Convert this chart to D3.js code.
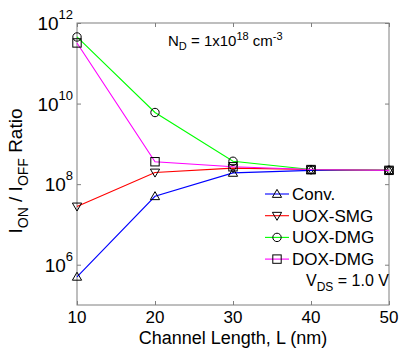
<!DOCTYPE html>
<html>
<head>
<meta charset="utf-8">
<script src="https://cdn.jsdelivr.net/npm/d3@7"></script>
<style>
  body { margin: 0; background: #fff; }
  text { font-family: "Liberation Sans", Arial, sans-serif; fill: #000; }
</style>
</head>
<body>
<svg id="chart" width="400" height="348"></svg>
<script>
// data
const lengths = [10, 20, 30, 40, 50];
const conv    = [5e5, 5e7, 1.9e8, 2.2e8, 2.2e8];
const uoxSmg  = [2.8e7, 1.95e8, 2.5e8, 2.3e8, 2.2e8];
const uoxDmg  = [4.5e11, 6e9, 3.7e8, 2.3e8, 2.2e8];
const doxDmg  = [3.2e11, 3.6e8, 2.7e8, 2.3e8, 2.2e8];
const yTickExps = [6, 8, 10, 12];

const series = [
  { name: 'Conv.',   values: conv,   color: '#0000ff', marker: 'up' },
  { name: 'UOX-SMG', values: uoxSmg, color: '#ff0000', marker: 'down' },
  { name: 'UOX-DMG', values: uoxDmg, color: '#00ff00', marker: 'circle' },
  { name: 'DOX-DMG', values: doxDmg, color: '#ff00ff', marker: 'square' }
];

const width = 400, height = 348;
const margin = { top: 23, right: 11, bottom: 43, left: 77 };
const w = width - margin.left - margin.right;
const h = height - margin.top - margin.bottom;

const svg = d3.select('#chart');
const chart = svg.append('g').attr('transform', `translate(${margin.left},${margin.top})`);

const x = d3.scaleLinear().domain([10, 50]).range([0, w]);
const y = d3.scaleLog().domain([1e5, 1e12]).range([h, 0]);

const axisColor = '#7f7f7f';

// tick marks (inward) on all four sides
function styleAxis(g) {
  g.select('.domain').remove();
  g.selectAll('line').attr('stroke', axisColor);
  g.selectAll('text').remove();
}
const yTicks = yTickExps.map(e => Math.pow(10, e));
chart.append('g').call(d3.axisBottom(x).tickValues(lengths).tickSizeInner(-4).tickSizeOuter(0))
  .attr('transform', `translate(0,${h})`).call(styleAxis);
chart.append('g').call(d3.axisTop(x).tickValues(lengths).tickSizeInner(-4).tickSizeOuter(0))
  .call(styleAxis);
chart.append('g').call(d3.axisLeft(y).tickValues(yTicks).tickSizeInner(-4).tickSizeOuter(0))
  .call(styleAxis);
chart.append('g').call(d3.axisRight(y).tickValues(yTicks).tickSizeInner(-4).tickSizeOuter(0))
  .attr('transform', `translate(${w},0)`).call(styleAxis);

// box
chart.append('rect')
  .attr('width', w).attr('height', h)
  .attr('fill', 'none').attr('stroke', axisColor).attr('stroke-width', 1);

// x tick labels
chart.append('g').selectAll('text')
  .data(lengths).enter().append('text')
  .attr('x', d => x(d)).attr('y', h + 18)
  .attr('text-anchor', 'middle').attr('font-size', 17)
  .text(d => d);

// y tick labels: 10^n
const yl = chart.append('g').selectAll('text')
  .data(yTickExps).enter().append('text')
  .attr('x', -4).attr('y', d => y(Math.pow(10, d)) + 7)
  .attr('text-anchor', 'end').attr('font-size', 19);
yl.append('tspan').text('10');
yl.append('tspan').attr('font-size', 13).attr('dy', -11).text(d => d);

// axis titles
svg.append('text')
  .attr('x', margin.left + w / 2).attr('y', 344)
  .attr('text-anchor', 'middle').attr('font-size', 18)
  .text('Channel Length, L (nm)');

const yt = svg.append('text')
  .attr('transform', `translate(22,171) rotate(-90)`)
  .attr('text-anchor', 'middle').attr('font-size', 19);
yt.append('tspan').text('I');
yt.append('tspan').attr('font-size', 14).attr('dy', 6).text('ON');
yt.append('tspan').attr('dy', -6).text(' / I');
yt.append('tspan').attr('font-size', 14).attr('dy', 6).text('OFF');
yt.append('tspan').attr('dy', -6).text(' Ratio');

// markers
const ms = 4.2;
function drawMarker(g, type, cx, cy) {
  const s = ms;
  if (type === 'circle') {
    g.append('circle').attr('cx', cx).attr('cy', cy).attr('r', s)
      .attr('fill', 'none').attr('stroke', '#000');
  } else if (type === 'square') {
    g.append('rect').attr('x', cx - s).attr('y', cy - s).attr('width', 2 * s).attr('height', 2 * s)
      .attr('fill', 'none').attr('stroke', '#000');
  } else {
    const k = type === 'up' ? -1 : 1;
    const pts = [[cx, cy + k * s * 1.1], [cx - s * 1.1, cy - k * s * 0.8], [cx + s * 1.1, cy - k * s * 0.8]];
    g.append('polygon').attr('points', pts.map(p => p.join(',')).join(' '))
      .attr('fill', 'none').attr('stroke', '#000');
  }
}

const line = d3.line().x(d => x(d[0])).y(d => y(d[1]));
series.forEach(s => {
  const pts = lengths.map((L, i) => [L, s.values[i]]);
  const g = chart.append('g');
  g.append('path').datum(pts).attr('d', line)
    .attr('fill', 'none').attr('stroke', s.color).attr('stroke-width', 1.1);
  pts.forEach(p => drawMarker(g, s.marker, x(p[0]), y(p[1])));
});

// legend
const legend = svg.append('g');
series.forEach((s, i) => {
  const ly = 194 + i * 21.7;
  legend.append('line').attr('x1', 265).attr('x2', 289).attr('y1', ly).attr('y2', ly)
    .attr('stroke', s.color).attr('stroke-width', 1.1);
  drawMarker(legend, s.marker, 277, ly);
  legend.append('text').attr('x', 292).attr('y', ly + 6).attr('font-size', 17).text(s.name);
});

// annotations
const vds = svg.append('text').attr('x', 306).attr('y', 286).attr('font-size', 16);
vds.append('tspan').text('V');
vds.append('tspan').attr('font-size', 12).attr('dy', 5).text('DS');
vds.append('tspan').attr('dy', -5).text(' = 1.0 V');

const nd = svg.append('text').attr('x', 168).attr('y', 46).attr('font-size', 15);
nd.append('tspan').text('N');
nd.append('tspan').attr('font-size', 11).attr('dy', 4).text('D');
nd.append('tspan').attr('dy', -4).text(' = 1x10');
nd.append('tspan').attr('font-size', 11).attr('dy', -6).text('18');
nd.append('tspan').attr('dy', 6).text(' cm');
nd.append('tspan').attr('font-size', 11).attr('dy', -6).text('-3');
</script>
</body>
</html>
